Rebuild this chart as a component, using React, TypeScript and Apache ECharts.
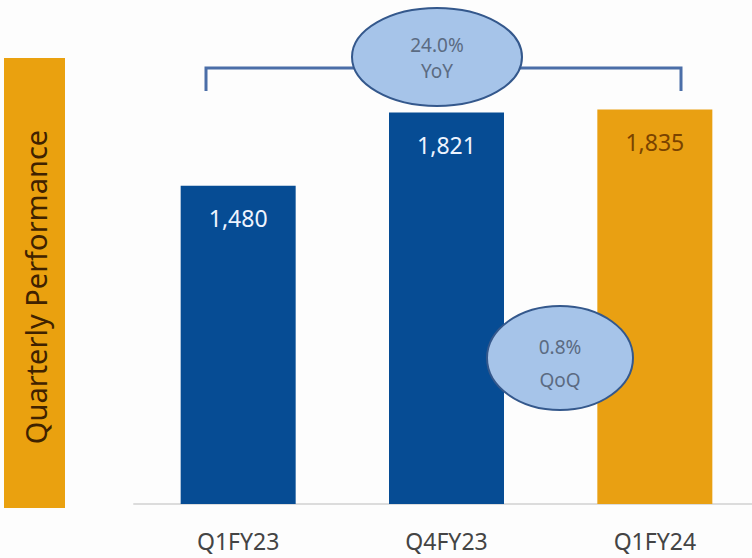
import React, { useEffect, useRef } from "react";
import * as echarts from "echarts";

const categories = ["Q1FY23", "Q4FY23", "Q1FY24"];
const values = [1480, 1821, 1835];
const barColors = ["#064c94", "#064c94", "#e9a012"];
const labelColors = ["#eef4ff", "#eef4ff", "#7a4300"];
const sideTitle = "Quarterly Performance";
const yoyText = ["24.0%", "YoY"];
const qoqText = ["0.8%", "QoQ"];

const FONT = "'Noto Sans', 'Open Sans', sans-serif";

export default function App() {
  const ref = useRef<HTMLDivElement>(null);
  useEffect(() => {
    if (!ref.current) return;
    const chart = echarts.init(ref.current, null, { renderer: "svg" });
    const txt = (x: number, y: number, t: string) => ({
      type: "text",
      x,
      y,
      z: 110,
      style: { text: t, fill: "#5b6b82", fontSize: 19, fontFamily: FONT, align: "center", verticalAlign: "middle" },
    });
    const option = {
      animation: false,
      backgroundColor: "#fdfdfd",
      grid: { left: 134, width: 625, top: 31, bottom: 54, outerBoundsMode: "none", containLabel: false },
      xAxis: {
        type: "category",
        data: categories,
        axisLine: { lineStyle: { color: "#dcdcdc", width: 2 } },
        axisTick: { show: false },
        axisLabel: { fontSize: 23, color: "#444", fontFamily: FONT, margin: 25 },
      },
      yAxis: { type: "value", min: 0, max: 2200, show: false, splitLine: { show: false } },
      series: [
        {
          type: "bar",
          barWidth: 115,
          data: values.map((v, i) => ({
            value: v,
            itemStyle: { color: barColors[i] },
            label: { color: labelColors[i] },
          })),
          label: {
            show: true,
            position: "insideTop",
            distance: 21,
            fontSize: 23,
            fontFamily: FONT,
            formatter: (p: any) => p.value.toLocaleString("en-US"),
          },
        },
      ],
      graphic: [
        { type: "rect", z: 100, shape: { x: 4, y: 58, width: 61, height: 450 }, style: { fill: "#eaa10f" } },
        {
          type: "text",
          x: 35,
          y: 287,
          z: 110,
          rotation: Math.PI / 2,
          style: {
            text: sideTitle,
            fill: "#3f2200",
            fontSize: 29,
            fontFamily: FONT,
            align: "center",
            verticalAlign: "middle",
          },
        },
        {
          type: "polyline",
          z: 100,
          shape: { points: [[206, 91], [206, 68], [681, 68], [681, 91]] },
          style: { stroke: "#4b6ea8", lineWidth: 3, fill: "none" },
        },
        {
          type: "ellipse",
          z: 105,
          shape: { cx: 437, cy: 57, rx: 85, ry: 49 },
          style: { fill: "#a6c4e9", stroke: "#34588c", lineWidth: 2 },
        },
        txt(437, 45, yoyText[0]),
        txt(437, 71, yoyText[1]),
        {
          type: "ellipse",
          z: 105,
          shape: { cx: 560, cy: 358, rx: 73, ry: 52 },
          style: { fill: "#a6c4e9", stroke: "#34588c", lineWidth: 2 },
        },
        txt(560, 347, qoqText[0]),
        txt(560, 380, qoqText[1]),
      ],
    };
    chart.setOption(option);
    return () => chart.dispose();
  }, []);
  return <div ref={ref} style={{ width: 752, height: 558, position: "absolute", left: 0, top: 0 }} />;
}
